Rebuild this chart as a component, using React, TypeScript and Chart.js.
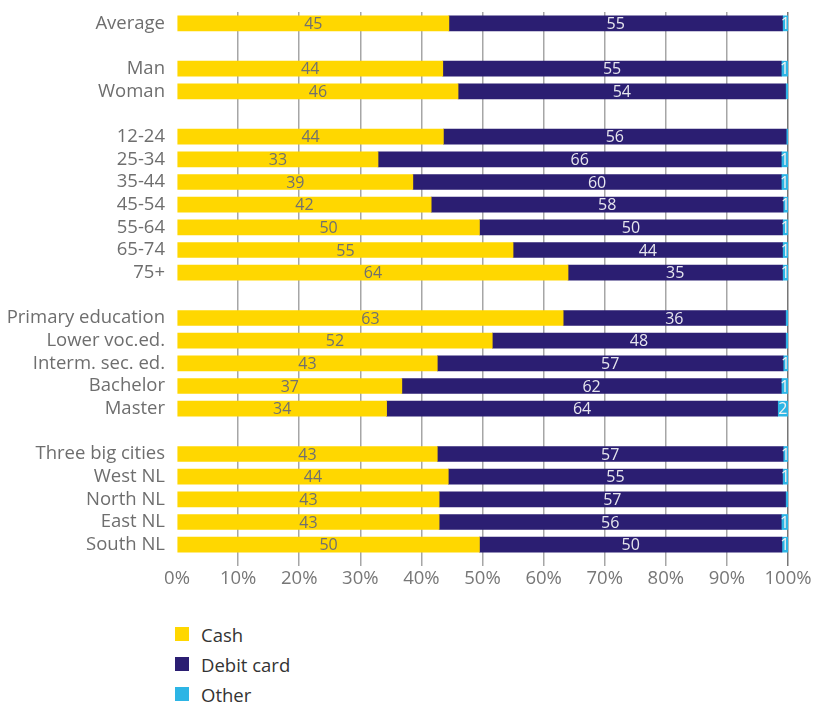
import React, { useEffect, useRef } from "react";
import { Chart, registerables } from "chart.js";

Chart.register(...registerables);

const categories = [
  "Average", "",
  "Man", "Woman", "",
  "12-24", "25-34", "35-44", "45-54", "55-64", "65-74", "75+", "",
  "Primary education", "Lower voc.ed.", "Interm. sec. ed.", "Bachelor", "Master", "",
  "Three big cities", "West NL", "North NL", "East NL", "South NL",
];

const cash = [44.5, null, 43.5, 46.0, null, 43.6, 32.9, 38.6, 41.6, 49.5, 55.0, 64.0, null, 63.2, 51.6, 42.6, 36.8, 34.3, null, 42.6, 44.4, 42.9, 42.9, 49.5];
const debit = [54.6, null, 55.4, 53.6, null, 56.1, 66.0, 60.3, 57.6, 49.6, 44.1, 35.1, null, 36.4, 48.0, 56.6, 62.1, 64.0, null, 56.6, 54.7, 56.7, 56.0, 49.5];
const other = [0.9, null, 1.1, 0.4, null, 0.3, 1.1, 1.1, 0.8, 0.9, 0.9, 0.9, null, 0.4, 0.4, 0.8, 1.1, 1.7, null, 0.8, 0.9, 0.4, 1.1, 1.0];

const seriesNames = ["Cash", "Debit card", "Other"];
const seriesColors = ["#FFD700", "#2B1E72", "#2DB5E5"];
const labelColors = ["#707070", "#E6E6EE", "#F2F2F2"];

const FONT = "'Open Sans', sans-serif";

const labelPlugin = {
  id: "barLabels",
  afterDatasetsDraw(chart: any) {
    const ctx = chart.ctx;
    ctx.save();
    ctx.font = `16px ${FONT}`;
    ctx.textAlign = "center";
    ctx.textBaseline = "middle";
    chart.data.datasets.forEach((ds: any, di: number) => {
      const meta = chart.getDatasetMeta(di);
      meta.data.forEach((el: any, i: number) => {
        const v = ds.data[i];
        if (v == null) return;
        const r = Math.round(v);
        if (r < 1) return;
        const p = el.getProps(["x", "y", "base"], true);
        ctx.fillStyle = labelColors[di];
        ctx.fillText(String(r), (p.x + p.base) / 2, p.y + 1);
      });
    });
    ctx.restore();
  },
};

export default function App() {
  const ref = useRef<HTMLCanvasElement | null>(null);

  useEffect(() => {
    if (!ref.current) return;
    const chart = new Chart(ref.current, {
      type: "bar",
      data: {
        labels: categories,
        datasets: [cash, debit, other].map((d, i) => ({
          label: seriesNames[i],
          data: d,
          backgroundColor: seriesColors[i],
          borderWidth: 0,
          barThickness: 15,
        })),
      },
      options: {
        indexAxis: "y",
        animation: false,
        responsive: false,
        layout: { padding: { top: 12, right: 27, left: 0, bottom: 0 } },
        plugins: {
          legend: { display: false },
          tooltip: { enabled: false },
        },
        scales: {
          x: {
            stacked: true,
            min: 0,
            max: 100,
            ticks: {
              stepSize: 10,
              callback: (v: any) => v + "%",
              color: "#777777",
              font: { family: FONT, size: 18.5 },
              padding: 2,
            },
            grid: {
              color: (c: any) => (c.index === 0 ? "rgba(0,0,0,0)" : c.index === 10 ? "#777777" : "#A6A6A6"),
              lineWidth: 1.5,
              tickLength: 10,
              drawTicks: true,
            },
            border: { display: false },
            afterFit: (scale: any) => {
              scale.height = 44;
              scale.paddingLeft = 0;
              scale.paddingRight = 0;
            },
          },
          y: {
            stacked: true,
            ticks: {
              color: "#6E6E6E",
              font: { family: FONT, size: 18.5 },
              padding: 12,
              autoSkip: false,
            },
            grid: { display: false, drawTicks: false },
            border: { display: false },
            afterFit: (scale: any) => {
              scale.width = 177;
              scale.paddingTop = 0;
              scale.paddingBottom = 0;
            },
          },
        },
      },
      plugins: [labelPlugin],
    });
    return () => chart.destroy();
  }, []);

  return (
    <div style={{ position: "absolute", left: 0, top: 0, width: 815, height: 704, overflow: "hidden", background: "#fff" }}>
      <canvas ref={ref} width={815} height={600} style={{ position: "absolute", left: 0, top: 0 }} />
      <div style={{ position: "absolute", left: 175, top: 619, fontFamily: FONT, fontSize: 18.5, color: "#333" }}>
        {seriesNames.map((n, i) => (
          <div key={n} style={{ display: "flex", alignItems: "center", height: 30 }}>
            <span style={{ display: "inline-block", width: 14, height: 14, background: seriesColors[i], marginRight: 12 }} />
            <span>{n}</span>
          </div>
        ))}
      </div>
    </div>
  );
}
